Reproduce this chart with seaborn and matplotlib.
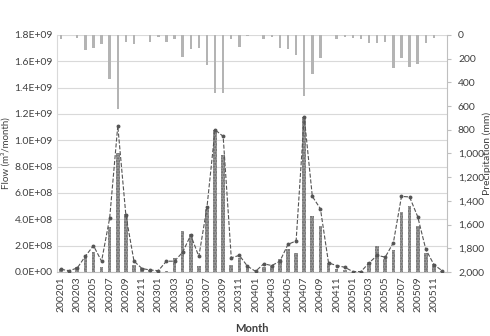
import numpy as np
import pandas as pd
import matplotlib
matplotlib.use("Agg")
import matplotlib.pyplot as plt
import seaborn as sns
from matplotlib.ticker import FuncFormatter

# monthly data 2002-01 .. 2005-12
months = [f"{y}{m:02d}" for y in range(2002, 2006) for m in range(1, 13)]

flow_obs = [2.5e7, 1.5e7, 3.6e7, 1.2e8, 1.54e8, 3.6e7, 3.4e8, 9.0e8, 4.4e8, 5.1e7, 3.0e7, 1.8e7,
            5e6, 1e7, 1.08e8, 3.1e8, 2.87e8, 4.4e7, 4.8e8, 1.08e9, 8.9e8, 5.6e7, 1.03e8, 4.9e7,
            0, 3.6e7, 4.9e7, 9.5e7, 1.72e8, 1.46e8, 1.18e9, 4.28e8, 3.5e8, 6.9e7, 2.6e7, 1.8e7,
            0, 0, 7.4e7, 1.97e8, 9.5e7, 1.64e8, 4.54e8, 5.0e8, 3.5e8, 1.41e8, 6.2e7, 1e7]

flow_sim = [2.0e7, 1.0e7, 3.0e7, 1.2e8, 2.0e8, 8.2e7, 4.1e8, 1.11e9, 4.3e8, 8.2e7, 2.6e7, 1.5e7,
            1.0e7, 8.2e7, 8.2e7, 1.5e8, 2.8e8, 1.18e8, 4.9e8, 1.08e9, 1.03e9, 1.08e8, 1.26e8, 4.4e7,
            5e6, 6.2e7, 4.9e7, 8.2e7, 2.1e8, 2.36e8, 1.18e9, 5.74e8, 4.8e8, 6.9e7, 4.9e7, 3.6e7,
            3e6, 3e6, 6.9e7, 1.26e8, 1.13e8, 2.23e8, 5.74e8, 5.7e8, 4.2e8, 1.72e8, 5.6e7, 1e7]

precip = [37, 0, 28, 127, 107, 79, 369, 622, 62, 76, 2, 56,
          14, 56, 37, 183, 118, 107, 253, 486, 486, 31, 101, 6,
          3, 37, 14, 107, 121, 169, 514, 329, 197, 0, 34, 20,
          25, 37, 70, 65, 62, 281, 197, 270, 247, 70, 28, 0]

df = pd.DataFrame({"month": months, "obs": flow_obs, "sim": flow_sim, "precip": precip})
df["pos"] = np.arange(len(df))

sns.set_style("white")
plt.rcParams['font.family'] = ['Lato', 'DejaVu Sans']
txt = "#404040"

fig = plt.figure(figsize=(4.9, 3.36), dpi=100)
ax = fig.add_axes([0.1163, 0.1905, 0.7957, 0.7054])

# flow bars
sns.barplot(data=df, x="month", y="obs", ax=ax, color="#999999", width=0.45,
            saturation=1, linewidth=0, hatch="......", zorder=2)
for p in ax.patches:
    p.set_edgecolor("#6a6a6a")

# simulated flow line
sns.lineplot(data=df, x="pos", y="sim", ax=ax, color="#555555", linestyle="--",
             linewidth=0.8, marker="o", markersize=2.8, markeredgewidth=0, zorder=3)

ax.set_ylim(0, 1.8e9)
ax.set_yticks(np.arange(0, 1.81e9, 2e8))
ax.yaxis.set_major_formatter(FuncFormatter(lambda v, p: f"{v:.1E}"))
ax.set_xlim(-0.5, 47.6)
ax.set_xticks(np.arange(0, 48, 2))
ax.set_xticklabels(months[::2], rotation=90, fontsize=7.5, color=txt)
ax.tick_params(axis="y", labelsize=7.5, labelcolor=txt, length=0, pad=3)
ax.tick_params(axis="x", length=0, pad=3)
ax.grid(axis="y", color="#d9d9d9", linewidth=0.8, zorder=0)
ax.set_axisbelow(True)
for s in ["top", "right"]:
    ax.spines[s].set_visible(False)
ax.spines["left"].set_color("#d9d9d9")
ax.spines["bottom"].set_color("#bfbfbf")
ax.set_xlabel("Month", fontsize=8, fontweight="bold", color=txt, labelpad=8)
ax.set_ylabel("Flow (m³/month)", fontsize=7, color=txt)
ax.yaxis.set_label_coords(-0.118, 0.5)

# precipitation on inverted secondary axis
ax2 = ax.twinx()
sns.barplot(data=df, x="month", y="precip", ax=ax2, color="#b4b4b4", width=0.3,
            saturation=1, linewidth=0, zorder=2)
ax2.set_ylim(2000, 0)
ax2.set_yticks(np.arange(0, 2001, 200))
ax2.yaxis.set_major_formatter(FuncFormatter(lambda v, p: f"{int(v):,}"))
ax2.set_xlim(-0.5, 47.6)
ax2.tick_params(axis="y", labelsize=7.5, labelcolor=txt, length=3, color="#bfbfbf", pad=5)
for s in ["top", "left", "bottom"]:
    ax2.spines[s].set_visible(False)
ax2.spines["right"].set_color("#bfbfbf")
ax2.set_ylabel("Precipitation (mm)", fontsize=7.5, color=txt)
ax2.yaxis.set_label_coords(1.09, 0.5)
ax2.set_xlabel("")

fig.savefig("out.png", dpi=100)
